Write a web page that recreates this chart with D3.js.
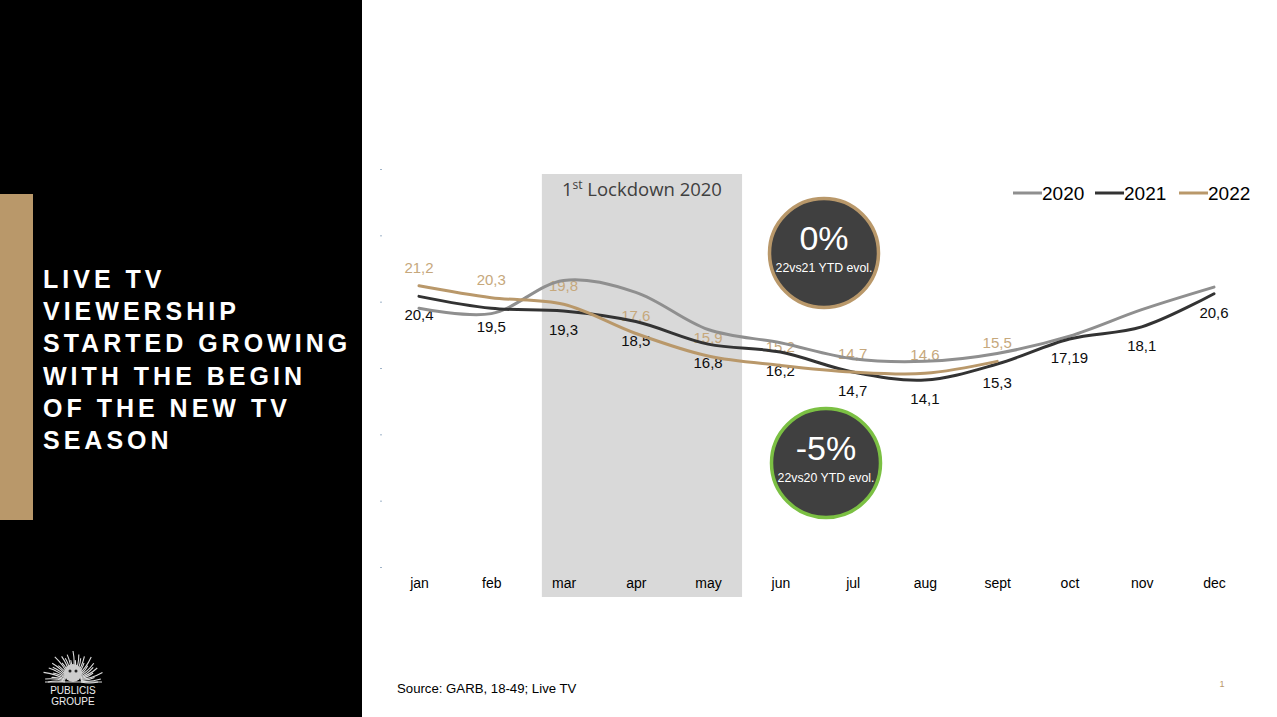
<!DOCTYPE html>
<html><head><meta charset="utf-8">
<script src="https://cdn.jsdelivr.net/npm/d3@7"></script>
<style>
html,body{margin:0;padding:0;background:#fff;}
svg{display:block;}
</style></head>
<body>
<svg id="chart" width="1277" height="717"></svg>
<script>
const months = ["jan","feb","mar","apr","may","jun","jul","aug","sept","oct","nov","dec"];
const v2020 = [19.5, 19.1, 21.6, 20.7, 17.9, 16.9, 15.7, 15.5, 16.1, 17.4, 19.4, 21.1];
const v2021 = [20.4, 19.5, 19.3, 18.5, 16.8, 16.2, 14.7, 14.1, 15.3, 17.19, 18.1, 20.6];
const v2022 = [21.2, 20.3, 19.8, 17.6, 15.9, 15.2, 14.7, 14.6, 15.5];
const seriesNames = ["2020","2021","2022"];
const yTicks = [0,5,10,15,20,25,30];
const titleLines = ["LIVE TV","VIEWERSHIP","STARTED GROWING","WITH THE BEGIN","OF THE NEW TV","SEASON"];
const lockdownMonths = ["mar","may"];
const kpis = [{value:"0%", label:"22vs21 YTD evol."},{value:"-5%", label:"22vs20 YTD evol."}];

const colors = {"2020":"#8f8f8f","2021":"#333333","2022":"#b9986a"};
const svg = d3.select("#chart");

// left panel
svg.append("rect").attr("x",0).attr("y",0).attr("width",362).attr("height",717).attr("fill","#000");
svg.append("rect").attr("x",0).attr("y",194).attr("width",33).attr("height",326).attr("fill","#b9986a");
const tt = svg.append("text").attr("fill","#fff").attr("font-family","'Liberation Sans', Arial, sans-serif")
  .attr("font-weight","bold").attr("font-size",25).style("letter-spacing","4px");
titleLines.forEach((l,i)=>tt.append("tspan").attr("x",43).attr("y",288+i*32.2).text(l));

// logo
const lg = svg.append("g");
const cx0=73, cy0=682;
d3.range(0,31).forEach(i=>{
  const a = Math.PI + (i/30)*Math.PI;
  const r1 = 8, r2 = 22 + (i%2?6:0) + (i%3===0?3:0);
  lg.append("path").attr("d",`M${cx0+r1*Math.cos(a)},${cy0+r1*Math.sin(a)} Q${cx0+(r1+r2)/2*Math.cos(a+0.12)},${cy0+(r1+r2)/2*Math.sin(a+0.12)} ${cx0+r2*Math.cos(a)},${cy0+r2*Math.sin(a)}`)
    .attr("stroke","#ddd").attr("stroke-width",1.1).attr("fill","none");
});
lg.append("circle").attr("cx",cx0).attr("cy",cy0-9).attr("r",9).attr("fill","#ccc");
lg.append("circle").attr("cx",cx0-3).attr("cy",cy0-11).attr("r",1.5).attr("fill","#222");
lg.append("circle").attr("cx",cx0+3).attr("cy",cy0-11).attr("r",1.5).attr("fill","#222");
lg.append("line").attr("x1",45).attr("x2",102).attr("y1",cy0).attr("y2",cy0).attr("stroke","#ddd").attr("stroke-width",1);
lg.append("text").attr("x",cx0).attr("y",694).attr("text-anchor","middle").attr("fill","#eee")
  .attr("font-family","'Liberation Sans', Arial").attr("font-size",10).text("PUBLICIS");
lg.append("text").attr("x",cx0).attr("y",705).attr("text-anchor","middle").attr("fill","#eee")
  .attr("font-family","'Liberation Sans', Arial").attr("font-size",10).text("GROUPE");

// scales
const x = d3.scalePoint().domain(months).range([419,1214]);
const step = x.step();
const y = d3.scaleLinear().domain([0,30]).range([567,169]);

// lockdown band
const bx0 = x(lockdownMonths[0]) - 0.3*step, bx1 = x(lockdownMonths[1]) + 0.47*step;
svg.append("rect").attr("x",bx0).attr("y",174).attr("width",bx1-bx0).attr("height",423).attr("fill","#d9d9d9");
const lt = svg.append("text").attr("x",(bx0+bx1)/2).attr("y",196).attr("text-anchor","middle")
  .attr("font-family","'Open Sans','Noto Sans',sans-serif").attr("font-size",18.5).attr("fill","#404040");
lt.append("tspan").text("1");
lt.append("tspan").attr("dy",-7).attr("font-size",12).text("st");
lt.append("tspan").attr("dy",7).text(" Lockdown 2020");

// y axis (tiny ticks only)
const ya = svg.append("g").attr("transform","translate(382,0)")
  .call(d3.axisLeft(y).tickValues(yTicks).tickSize(2).tickFormat(""));
ya.select(".domain").remove();
ya.selectAll(".tick line").attr("stroke","#9fb3c8");

// x axis labels
const xa = svg.append("g").attr("transform","translate(0,578)")
  .call(d3.axisBottom(x).tickSize(0).tickPadding(0));
xa.select(".domain").remove();
xa.selectAll(".tick text").attr("dy","0.71em").attr("font-family","'Liberation Sans Narrow','Liberation Sans',Arial")
  .attr("font-size",14).attr("fill","#000");

const fmt = v => String(v).replace(".",",");
// labels 2022 (above)
svg.selectAll(".l22").data(v2022).join("text").attr("class","l22")
  .attr("x",(d,i)=>x(months[i])).attr("y",d=>y(d)-13).attr("text-anchor","middle")
  .attr("font-family","'Liberation Sans',Arial").attr("font-size",15).attr("fill","#c6a87c").text(fmt);
// labels 2021 (below)
svg.selectAll(".l21").data(v2021).join("text").attr("class","l21")
  .attr("x",(d,i)=>x(months[i])).attr("y",d=>y(d)+24).attr("text-anchor","middle")
  .attr("font-family","'Liberation Sans',Arial").attr("font-size",15).attr("fill","#0d0d0d").text(fmt);

// lines
const line = d3.line().x((d,i)=>x(months[i])).y(d=>y(d)).curve(d3.curveCatmullRom.alpha(0.5));
const data = {"2020":v2020,"2021":v2021,"2022":v2022};
seriesNames.forEach(s=>{
  svg.append("path").datum(data[s]).attr("d",line).attr("fill","none")
    .attr("stroke",colors[s]).attr("stroke-width",3).attr("stroke-linecap","round");
});

// legend
const legX = [1013,1095,1179];
seriesNames.forEach((s,i)=>{
  const g = svg.append("g");
  g.append("line").attr("x1",legX[i]).attr("x2",legX[i]+29).attr("y1",193).attr("y2",193)
    .attr("stroke",colors[s]).attr("stroke-width",3);
  g.append("text").attr("x",legX[i]+29).attr("y",200).attr("font-family","'Liberation Sans',Arial")
    .attr("font-size",19).attr("fill","#000").text(s);
});

// KPI circles
const circ = [{cx:824,cy:253,stroke:"#b9986a"},{cx:826,cy:463,stroke:"#7bc043"}];
kpis.forEach((k,i)=>{
  const c = circ[i];
  svg.append("circle").attr("cx",c.cx).attr("cy",c.cy).attr("r",54.5).attr("fill","#404040")
    .attr("stroke",c.stroke).attr("stroke-width",3.5);
  svg.append("text").attr("x",c.cx).attr("y",c.cy-3).attr("text-anchor","middle")
    .attr("font-family","'Liberation Sans',Arial").attr("font-size",34).attr("fill","#fff").text(k.value);
  svg.append("text").attr("x",c.cx).attr("y",c.cy+19).attr("text-anchor","middle")
    .attr("font-family","'Liberation Sans',Arial").attr("font-size",12.3).attr("fill","#fff").text(k.label);
});

// footer
svg.append("text").attr("x",397).attr("y",693).attr("font-family","'Liberation Sans Narrow','Liberation Sans',Arial")
  .attr("font-size",13.2).attr("fill","#000").text("Source: GARB, 18-49; Live TV");
svg.append("text").attr("x",1222).attr("y",687).attr("text-anchor","middle").attr("font-family","'Liberation Sans',Arial")
  .attr("font-size",9).attr("fill","#b9986a").text("1");
</script>
</body></html>
